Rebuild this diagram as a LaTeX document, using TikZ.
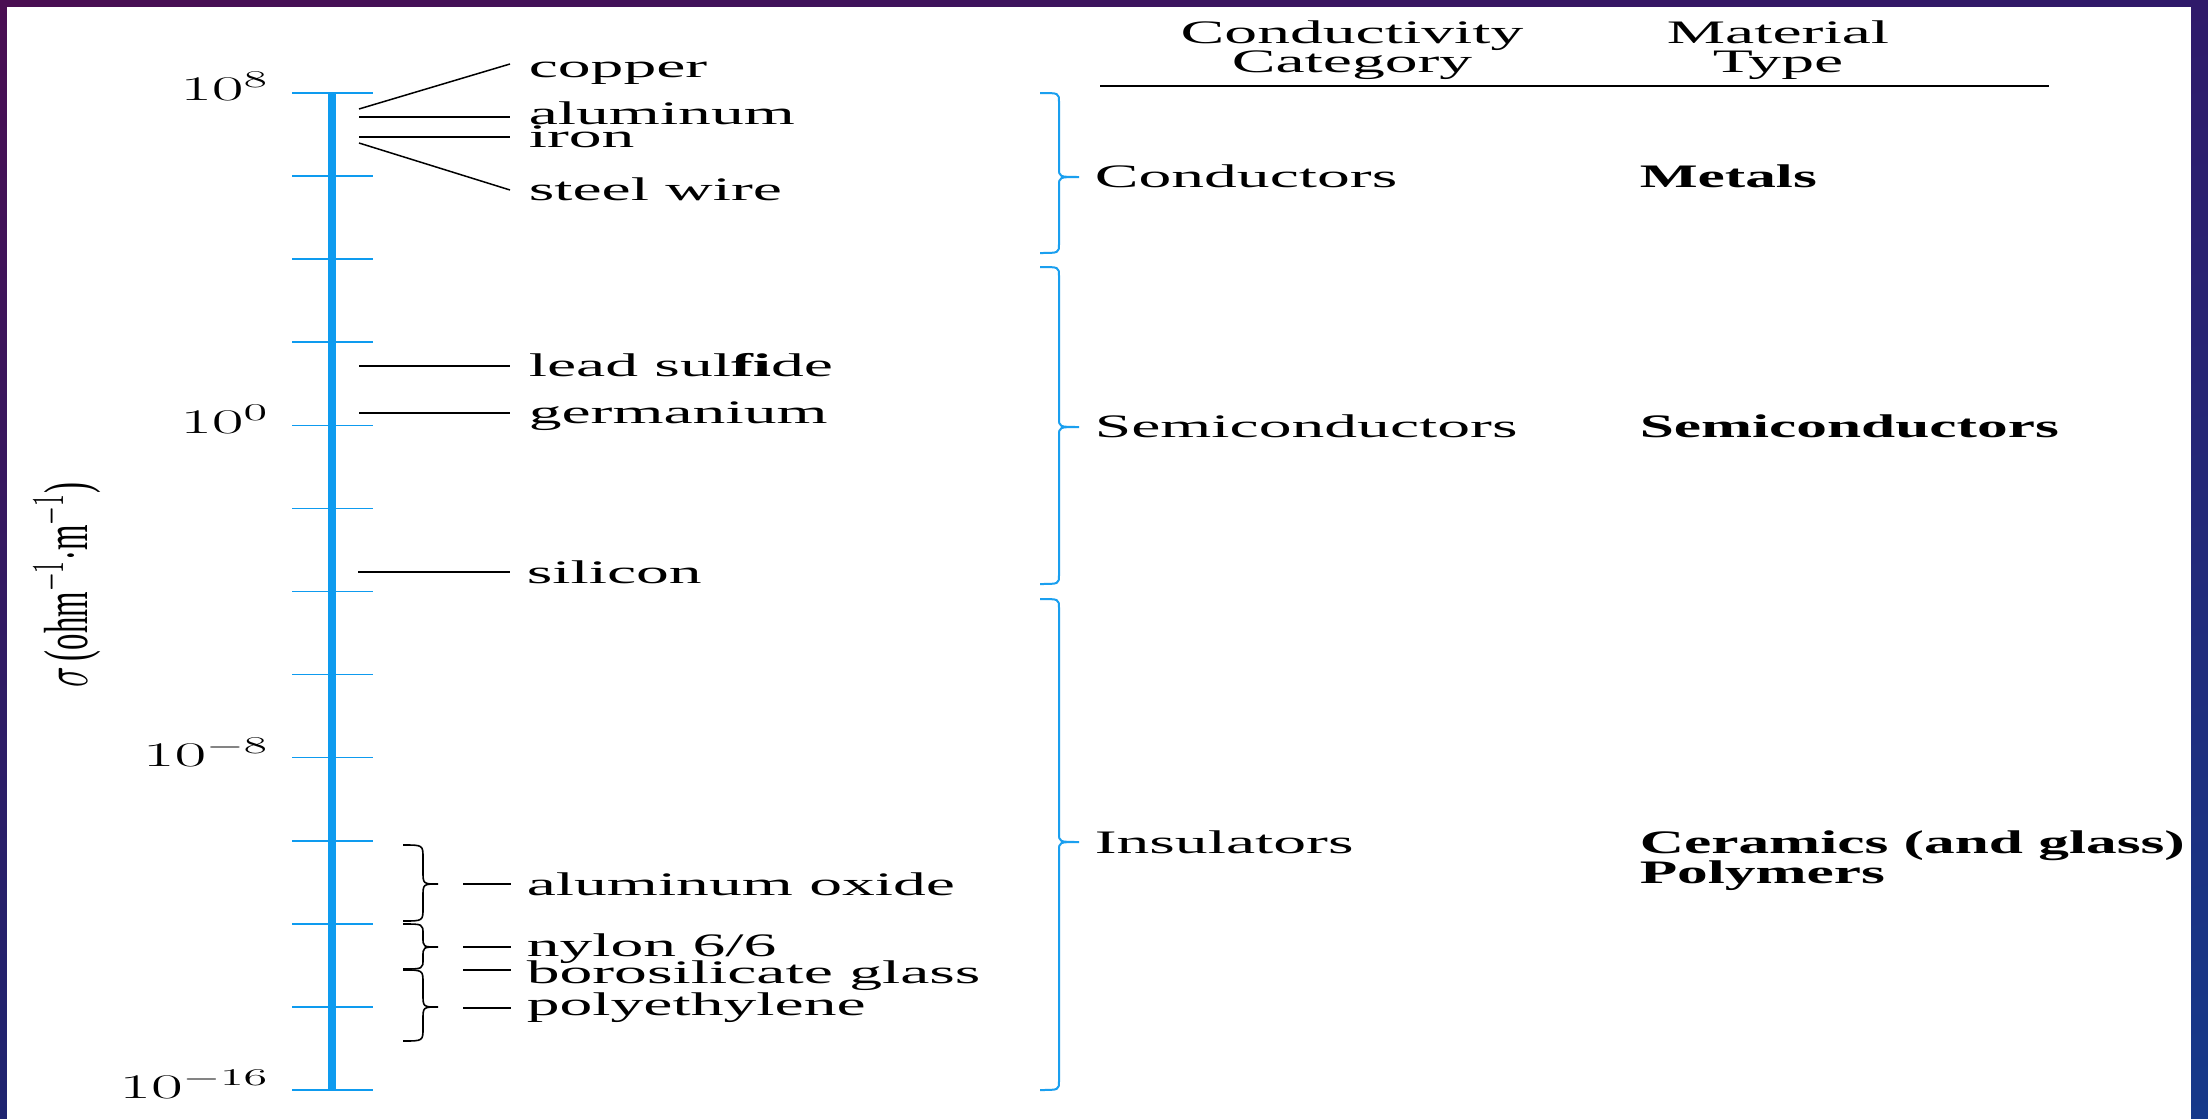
\documentclass[tikz,border=0pt]{standalone}
\usepackage{fontspec}
\setmainfont{Liberation Serif}
\usetikzlibrary{shadings}
\definecolor{axisblue}{HTML}{0E9BEF}
\definecolor{braceblue}{HTML}{1A9FEF}
\definecolor{bgA}{HTML}{4A0E52}
\definecolor{bgB}{HTML}{2F1A6A}
\definecolor{bgC}{HTML}{15398A}
\definecolor{bgD}{HTML}{1E2470}
\tikzset{
  lbl/.style={anchor=base west, inner sep=0pt, xscale=2},
  bld/.style={anchor=base west, inner sep=0pt, xscale=1.87, font=\fontsize{16.4}{19}\selectfont\bfseries},
  hdr/.style={anchor=base, inner sep=0pt, xscale=2},
  ticklbl/.style={anchor=base east, inner sep=0pt, xscale=2},
  tickmark/.style={draw=axisblue, line width=0.8pt},
  leader/.style={draw=black, line width=0.75pt},
  bluebrace/.style={draw=braceblue, line width=1pt},
  blackbrace/.style={draw=black, line width=0.8pt}
}
% #1 style, #2 x of ends, #3 x of spine, #4 x of tip, #5 y top, #6 y tip, #7 y bottom, #8 hook radius
\newcommand\mybrace[8]{%
  \draw[#1] (#2,#5) .. controls (#3,#5) .. (#3,#5+#8)
    -- (#3,#6-#8) .. controls (#3,#6) .. (#4,#6)
    .. controls (#3,#6) .. (#3,#6+#8)
    -- (#3,#7-#8) .. controls (#3,#7) .. (#2,#7);}
\begin{document}
\begin{tikzpicture}[x=0.5pt, y=-0.5pt, font=\fontsize{16.4}{19}\selectfont]
\useasboundingbox (0,0) rectangle (2208,1119);
\shade[upper left=bgA, upper right=bgB, lower left=bgD, lower right=bgC] (0,0) rectangle (2208,1119);
\fill[white] (7,7) rectangle (2191,1119);

% axis
\coordinate (axtop) at (332,93);
\coordinate (axbot) at (332,1091);
\draw[draw=axisblue, line width=3.9pt] (axtop) -- (axbot);
\foreach \k in {0,...,12} {
  \coordinate (tl\k) at (292,{93+\k*83.08});
  \coordinate (tr\k) at (373,{93+\k*83.08});
  \draw[tickmark] (tl\k) -- (tr\k);
}

% tick labels
\node[ticklbl] (t8) at (270,100) {$10^{8}$};
\node[ticklbl] (t0) at (270,433) {$10^{0}$};
\node[ticklbl] (tm8) at (270,766) {$10^{-8}$};
\node[ticklbl] (tm16) at (270,1098) {$10^{-16}$};

% axis label
\node[rotate=90, yscale=1.9, anchor=base, inner sep=0pt] (ylab) at (87,585) {$\sigma$\,(ohm$^{-1}\cdot$m$^{-1}$)};

% material labels
\node[lbl] (cu) at (528,77) {copper};
\node[lbl] (al) at (528,124) {aluminum};
\node[lbl] (fe) at (528,147) {iron};
\node[lbl] (st) at (528,200) {steel wire};
\node[lbl] (pbs) at (528,376) {lead sul\textbf{fi}de};
\node[lbl] (ge) at (528,423) {germanium};
\node[lbl] (si) at (526,583) {silicon};
\node[lbl] (alo) at (526,895) {aluminum oxide};
\node[lbl] (ny) at (526,956) {nylon 6/6};
\node[lbl] (bg) at (526,983) {borosilicate glass};
\node[lbl] (pe) at (526,1015) {polyethylene};

% leader lines
\coordinate (cuA) at (359,109); \coordinate (cuB) at (510,64);
\coordinate (alA) at (359,117); \coordinate (alB) at (510,117);
\coordinate (feA) at (359,137); \coordinate (feB) at (510,137);
\coordinate (stA) at (359,143); \coordinate (stB) at (510,190);
\coordinate (pbsA) at (359,366); \coordinate (pbsB) at (510,366);
\coordinate (geA) at (359,413); \coordinate (geB) at (510,413);
\coordinate (siA) at (358,572); \coordinate (siB) at (510,572);
\coordinate (aloA) at (463,884); \coordinate (aloB) at (511,884);
\coordinate (nyA) at (463,947); \coordinate (nyB) at (511,947);
\coordinate (bgA1) at (463,970); \coordinate (bgB1) at (511,970);
\coordinate (peA) at (463,1008); \coordinate (peB) at (511,1008);
\foreach \a/\b in {cuA/cuB, alA/alB, feA/feB, stA/stB, pbsA/pbsB, geA/geB, siA/siB, aloA/aloB, nyA/nyB, bgA1/bgB1, peA/peB}
  \draw[leader] (\a) -- (\b);

% small black braces
\mybrace{blackbrace}{403}{423}{438}{845}{884}{921}{13}
\mybrace{blackbrace}{403}{423}{438}{924}{947}{969}{10}
\mybrace{blackbrace}{403}{423}{438}{970}{1007}{1041}{13}

% header
\node[hdr] (h1) at (1352,43) {Conductivity};
\node[hdr] (h2) at (1352,72) {Category};
\node[hdr] (h3) at (1778,43) {Material};
\node[hdr] (h4) at (1778,72) {Type};
\coordinate (ruleL) at (1100,86);
\coordinate (ruleR) at (2049,86);
\draw[line width=0.7pt] (ruleL) -- (ruleR);

% blue braces
\mybrace{bluebrace}{1040}{1059}{1079}{93}{177}{253}{9}
\mybrace{bluebrace}{1040}{1059}{1079}{267}{427}{584}{9}
\mybrace{bluebrace}{1040}{1059}{1079}{599}{842}{1090}{9}

% categories
\node[lbl] (cond) at (1094,187) {Conductors};
\node[lbl] (semi) at (1094,437) {Semiconductors};
\node[lbl] (ins) at (1094,853) {Insulators};
\node[bld] (met) at (1639,187) {Metals};
\node[bld] (semm) at (1639,437) {Semiconductors};
\node[bld] (cer) at (1639,853) {Ceramics (and glass)};
\node[bld] (pol) at (1639,883) {Polymers};
\end{tikzpicture}
\end{document}
